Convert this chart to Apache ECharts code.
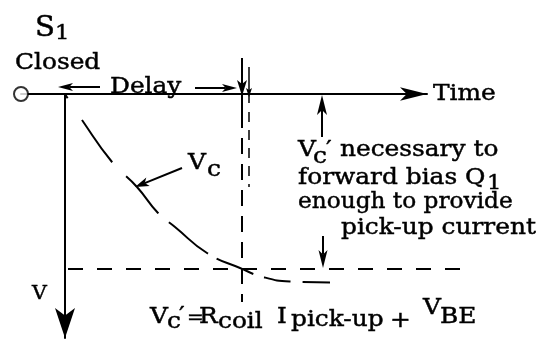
<!DOCTYPE html>
<html>
<head>
<meta charset="utf-8">
<script src="https://cdn.jsdelivr.net/npm/echarts@6/dist/echarts.min.js"></script>
<style>
html,body{margin:0;padding:0;background:#fff;}
#chart{width:557px;height:343px;}
</style>
</head>
<body>
<div id="chart"></div>
<script>
// ---- data (t in time units, V in volts units; V grows downward) ----
const curveT = [0, 1.7, 4.7, 7.2, 9.3, 11.0, 14.2, 17.5, 19.8, 22.5, 26.5];
const curveV = [0, 2.6, 6.8, 9.3, 11.9, 13.3, 15.9, 17.4, 18.3, 18.75, 18.85];
const thresholdV = 17.5;          // Vc' level
const thresholdEndT = 39.7;
const delayT = 17.7;              // end of delay
const delayT2 = 18.4;             // second marker line
const delayLineV = [-3.6, 1.8, 20.8];   // solid top, dashed start, dashed end
const delay2LineV = [-2.7, 0.9, 1.8, 9.3];
const switchT = -4.4;             // S1 closed point

const FONT = '"DejaVu Serif", "Liberation Serif", serif';
const SIZE = 23;
const SX = 1.08;

function txt(str, x, base, size, sx) {
  size = size || SIZE;
  return {
    type: 'text', x: x, y: base - 0.23 * size, scaleX: sx || SX, z: 100,
    style: { text: str, font: size + 'px ' + FONT, fill: '#000',
             stroke: '#000', lineWidth: 0.45,
             align: 'left', verticalAlign: 'middle' }
  };
}
function arrow(x1, y1, x2, y2, len, hw, lw) {
  const dx = x2 - x1, dy = y2 - y1, L = Math.hypot(dx, dy), ux = dx / L, uy = dy / L;
  const bx = x2 - ux * len, by = y2 - uy * len;
  const nx = x2 - ux * len * 0.75, ny = y2 - uy * len * 0.75;
  return [
    { type: 'line', z: 100, shape: { x1: x1, y1: y1, x2: nx, y2: ny }, style: { stroke: '#000', lineWidth: lw || 2 } },
    { type: 'polygon', z: 100, shape: { points: [[x2, y2], [bx - uy * hw, by + ux * hw], [nx, ny], [bx + uy * hw, by - ux * hw]] }, style: { fill: '#000' } }
  ];
}

const chart = echarts.init(document.getElementById('chart'), null, { renderer: 'canvas' });

const graphics = [].concat(
  [
    txt('S', 35, 35, 27),
    txt('1', 55, 38, 21),
    txt('Closed', 15, 68),
    txt('Delay', 110, 92),
    txt('Time', 433, 99),
    txt('V', 188, 168),
    txt('c', 207, 175),
    txt('V', 298, 155),
    txt('c', 313, 162),
    txt('\u2032', 326, 155),
    txt('necessary to', 340, 155),
    txt('forward bias Q', 298, 183),
    txt('1', 487, 188, 21),
    txt('enough to provide', 298, 207, SIZE, 1.01),
    txt('pick-up current', 341, 233),
    txt('V', 32, 298, 19),
    // formula
    txt('V', 150, 322),
    txt('c', 167, 327),
    txt('\u2032', 179, 321),
    txt('=', 187, 323, 20, 1.0),
    txt('R', 199, 322),
    txt('coil', 218, 327),
    txt('I', 277, 322),
    txt('pick-up', 291, 325),
    txt('+', 390, 326),
    txt('V', 423, 313),
    txt('BE', 440, 322)
  ],
  arrow(100, 87, 58, 87, 15, 4),
  arrow(195, 88, 237, 88, 15, 4),
  arrow(182, 168, 135, 187, 14, 4.5),
  arrow(322, 137, 322, 95, 20, 5),
  arrow(323, 236, 323, 268, 18, 4.5),
  [
    { type: 'polygon', z: 100, shape: { points: [[242, 96], [237, 80], [242, 84], [247, 80]] }, style: { fill: '#000' } },
    { type: 'polygon', z: 100, shape: { points: [[249, 97], [246, 88], [249, 90], [252, 88]] }, style: { fill: '#000' } }
  ]
);

const hiddenAxis = {
  axisLine: { show: false }, axisTick: { show: false }, axisLabel: { show: false }, splitLine: { show: false }
};

const option = {
  animation: false,
  backgroundColor: '#fff',
  grid: [
    { left: 21, top: 94, width: 406, height: 244, containLabel: false },
    { left: 21, top: 54, width: 454, height: 284, containLabel: false }
  ],
  xAxis: [
    {
      gridIndex: 0, type: 'value', min: switchT, max: 36.2,
      axisLine: { show: true, onZero: true, symbol: ['none', 'arrow'], symbolSize: [10, 27],
                  lineStyle: { color: '#000', width: 2 } },
      axisTick: { show: false }, axisLabel: { show: false }, splitLine: { show: false }
    },
    Object.assign({ gridIndex: 1, type: 'value', min: switchT, max: 41 }, hiddenAxis)
  ],
  yAxis: [
    {
      gridIndex: 0, type: 'value', inverse: true, min: 0, max: 24.4,
      axisLine: { show: true, onZero: true, symbol: ['arrow', 'none'], symbolSize: [15, 30],
                  lineStyle: { color: '#000', width: 2 } },
      axisTick: { show: false }, axisLabel: { show: false }, splitLine: { show: false }
    },
    Object.assign({ gridIndex: 1, type: 'value', inverse: true, min: -4, max: 24.4 }, hiddenAxis)
  ],
  series: [
    {
      type: 'line', xAxisIndex: 1, yAxisIndex: 1, smooth: true, symbol: 'none', clip: false,
      data: curveT.map((t, i) => [t, curveV[i]]),
      lineStyle: { color: '#000', width: 2, type: [5, 26, 52, 20, 49, 14, 50, 10, 40, 11, 27, 12, 28, 60] }
    },
    {
      type: 'line', xAxisIndex: 1, yAxisIndex: 1, symbol: 'none', clip: false,
      data: [[0, thresholdV], [thresholdEndT, thresholdV]],
      lineStyle: { color: '#000', width: 2, type: [0, 3, 15, 14, 15, 14, 15, 14, 15, 14, 15, 14, 15, 14, 15, 14, 15, 14, 15, 14, 15, 14, 15, 14, 15, 14, 15, 14, 15, 14] }
    },
    {
      type: 'line', xAxisIndex: 1, yAxisIndex: 1, symbol: 'none', clip: false,
      data: [[delayT, delayLineV[0]], [delayT, delayLineV[1]]],
      lineStyle: { color: '#000', width: 2 }
    },
    {
      type: 'line', xAxisIndex: 1, yAxisIndex: 1, symbol: 'none', clip: false,
      data: [[delayT, delayLineV[1]], [delayT, delayLineV[2]]],
      lineStyle: { color: '#000', width: 2, type: [16, 10] }
    },
    {
      type: 'line', xAxisIndex: 1, yAxisIndex: 1, symbol: 'none', clip: false,
      data: [[delayT2, delay2LineV[0]], [delayT2, delay2LineV[1]]],
      lineStyle: { color: '#000', width: 1.5 }
    },
    {
      type: 'line', xAxisIndex: 1, yAxisIndex: 1, symbol: 'none', clip: false,
      data: [[delayT2, delay2LineV[2]], [delayT2, delay2LineV[3]]],
      lineStyle: { color: '#000', width: 1.5, type: [10, 8] }
    },
    {
      type: 'scatter', xAxisIndex: 1, yAxisIndex: 1, symbol: 'emptyCircle', symbolSize: 14, z: 10,
      data: [[switchT, 0]],
      itemStyle: { color: '#000', borderColor: '#000', borderWidth: 2 }
    }
  ],
  graphic: graphics
};
chart.setOption(option);
</script>
</body>
</html>
